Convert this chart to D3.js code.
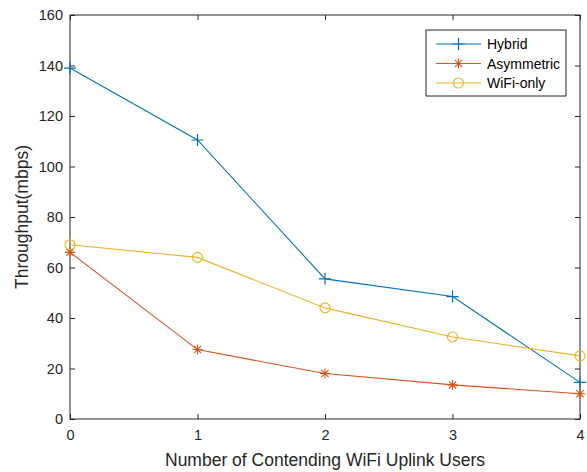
<!DOCTYPE html>
<html>
<head>
<meta charset="utf-8">
<script src="https://cdn.jsdelivr.net/npm/d3@7"></script>
<style>
    body { margin: 0; background: #fff; }
    svg { font-family: "Liberation Sans", Arial, sans-serif; }
</style>
</head>
<body>
<svg id="chart" width="587" height="472"></svg>
<script>
const users = [0, 1, 2, 3, 4];
const hybrid = [139, 110.5, 55.5, 48.5, 14.5];
const asymmetric = [66, 27.5, 18, 13.5, 10];
const wifiOnly = [69, 64, 44, 32.5, 25];
const yTicks = [0, 20, 40, 60, 80, 100, 120, 140, 160];

const series = [
    { name: "Hybrid", values: hybrid, color: "#0072BD", marker: "plus" },
    { name: "Asymmetric", values: asymmetric, color: "#D95319", marker: "star" },
    { name: "WiFi-only", values: wifiOnly, color: "#EDB120", marker: "circle" },
];

const margin = { left: 70, right: 7, top: 15, bottom: 53 };
const width = 587, height = 472;
const svg = d3.select("#chart");

const x = d3.scaleLinear().domain([0, 4]).range([margin.left, width - margin.right]);
const y = d3.scaleLinear().domain([0, 160]).range([height - margin.bottom, margin.top]);

const axisColor = "#262626";

// box
svg.append("rect")
    .attr("x", x(0)).attr("y", y(160))
    .attr("width", x(4) - x(0)).attr("height", y(0) - y(160))
    .attr("fill", "none").attr("stroke", axisColor).attr("stroke-width", 1);

function styleAxis(g) {
    g.select(".domain").remove();
    g.selectAll(".tick line").attr("stroke", axisColor);
    g.selectAll(".tick text").attr("fill", axisColor).style("font-size", "14.5px");
}

svg.append("g")
    .attr("transform", `translate(0,${y(0)})`)
    .call(d3.axisBottom(x).tickValues(users).tickFormat(d3.format("d")).tickSizeInner(-5).tickPadding(11))
    .call(styleAxis);
svg.append("g")
    .attr("transform", `translate(0,${y(160)})`)
    .call(d3.axisTop(x).tickValues(users).tickSizeInner(-5).tickFormat(""))
    .call(styleAxis);
svg.append("g")
    .attr("transform", `translate(${x(0)},0)`)
    .call(d3.axisLeft(y).tickValues(yTicks).tickSizeInner(-5).tickPadding(7))
    .call(styleAxis);
svg.append("g")
    .attr("transform", `translate(${x(4)},0)`)
    .call(d3.axisRight(y).tickValues(yTicks).tickSizeInner(-5).tickFormat(""))
    .call(styleAxis);

svg.append("text")
    .attr("x", (x(0) + x(4)) / 2).attr("y", 466)
    .attr("text-anchor", "middle").attr("fill", axisColor)
    .style("font-size", "17.5px")
    .text("Number of Contending WiFi Uplink Users");
svg.append("text")
    .attr("transform", `translate(28,${(y(0) + y(160)) / 2}) rotate(-90)`)
    .attr("text-anchor", "middle").attr("fill", axisColor)
    .style("font-size", "17.5px")
    .text("Throughput(mbps)");

function drawMarker(g, type, color) {
    if (type === "plus") {
        g.append("path").attr("d", "M-6,0H6M0,-6V6")
            .attr("stroke", color).attr("stroke-width", 1.2).attr("fill", "none");
    } else if (type === "star") {
        g.append("path").attr("d", "M-5,0H5M0,-5V5M-3.6,-3.6L3.6,3.6M-3.6,3.6L3.6,-3.6")
            .attr("stroke", color).attr("stroke-width", 1.1).attr("fill", "none");
    } else {
        g.append("circle").attr("r", 5)
            .attr("stroke", color).attr("stroke-width", 1.1).attr("fill", "none");
    }
}

const line = d3.line().x((d, i) => x(users[i])).y(d => y(d));

series.forEach(s => {
    svg.append("path")
        .datum(s.values)
        .attr("d", line)
        .attr("fill", "none")
        .attr("stroke", s.color)
        .attr("stroke-width", 1.1);
    s.values.forEach((v, i) => {
        const g = svg.append("g").attr("transform", `translate(${x(users[i])},${y(v)})`);
        drawMarker(g, s.marker, s.color);
    });
});

// legend
const legend = svg.append("g").attr("transform", "translate(426,30)");
legend.append("rect")
    .attr("width", 140).attr("height", 66)
    .attr("fill", "#fff").attr("stroke", axisColor).attr("stroke-width", 1);
series.forEach((s, i) => {
    const row = legend.append("g").attr("transform", `translate(0,${14 + i * 19.5})`);
    row.append("line").attr("x1", 10).attr("x2", 55).attr("y1", 0).attr("y2", 0)
        .attr("stroke", s.color).attr("stroke-width", 1.1);
    const m = row.append("g").attr("transform", "translate(32.5,0)");
    drawMarker(m, s.marker, s.color);
    row.append("text").attr("x", 61).attr("y", 5)
        .attr("fill", "#000").style("font-size", "14px")
        .text(s.name);
});
</script>
</body>
</html>
